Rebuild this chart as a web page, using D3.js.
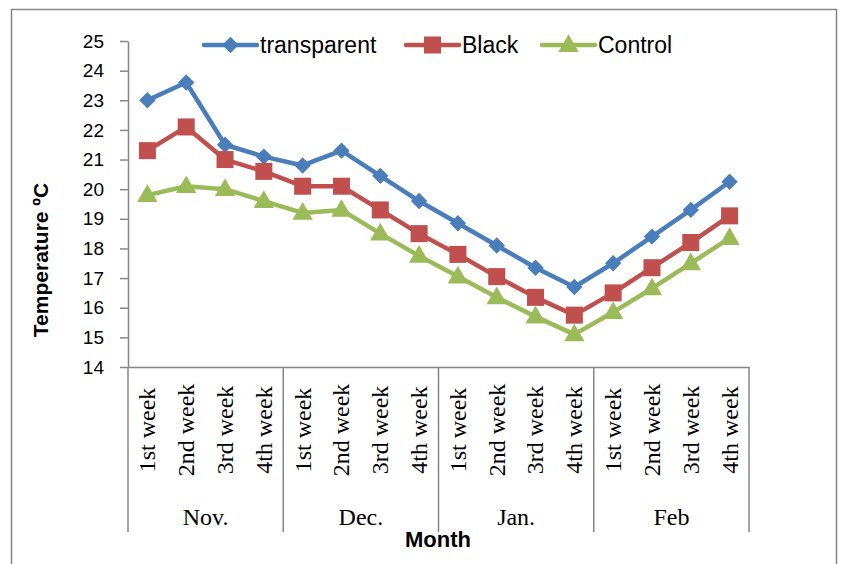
<!DOCTYPE html>
<html>
<head>
<meta charset="utf-8">
<script src="https://cdn.jsdelivr.net/npm/d3@7"></script>
<style>
	body { margin: 0; background: #fff; }
	svg { display: block; }
</style>
</head>
<body>
<script>
var months = ["Nov.", "Dec.", "Jan.", "Feb"];
var weeks = ["1st week", "2nd week", "3rd week", "4th week"];

var transparent = [23.0, 23.6, 21.5, 21.1, 20.8, 21.3, 20.45, 19.6, 18.85, 18.1, 17.35, 16.7, 17.5, 18.4, 19.3, 20.25];
var black = [21.3, 22.1, 21.0, 20.6, 20.1, 20.1, 19.3, 18.5, 17.8, 17.05, 16.35, 15.75, 16.5, 17.35, 18.2, 19.1];
var control = [19.8, 20.1, 20.0, 19.6, 19.2, 19.3, 18.5, 17.75, 17.05, 16.35, 15.7, 15.1, 15.85, 16.65, 17.5, 18.35];

var yTicks = [14, 15, 16, 17, 18, 19, 20, 21, 22, 23, 24, 25];

var seriesNames = ["transparent", "Black", "Control"];

var chart = {
	width: 847,
	height: 564,
	left: 128,
	right: 749,
	top: 41,
	bottom: 367,
	axisColor: "#868686",

	init: function () {
		// one key per week, grouped by month
		var keys = [];
		months.forEach(function (m) {
			weeks.forEach(function (w) { keys.push(m + "|" + w); });
		});
		this.keys = keys;

		this.x = d3.scaleBand().domain(keys).range([this.left, this.right]);
		this.xMonth = d3.scaleBand().domain(months).range([this.left, this.right]);
		this.y = d3.scaleLinear().domain([14, 25]).range([this.bottom, this.top]);

		this.svg = d3.select("body").append("svg")
			.attr("width", this.width)
			.attr("height", this.height);

		// outer chart frame
		this.svg.append("rect")
			.attr("x", 11.5).attr("y", 9.5)
			.attr("width", 825).attr("height", 570)
			.attr("fill", "none")
			.attr("stroke", this.axisColor)
			.attr("stroke-width", 1.5);

		this.yAxis();
		this.xAxis();
		this.lines();
		this.legend();
	},

	yAxis: function () {
		var g = this.svg.append("g")
			.attr("transform", "translate(" + this.left + ",0)")
			.call(d3.axisLeft(this.y).tickValues(yTicks).tickSize(8).tickSizeOuter(0).tickPadding(16));
		g.select(".domain").attr("stroke", this.axisColor).attr("stroke-width", 1.5);
		g.selectAll(".tick line").attr("stroke", this.axisColor).attr("stroke-width", 1.5);
		g.selectAll(".tick text")
			.attr("fill", "#000")
			.style("font-family", "'Liberation Sans', Arial, sans-serif")
			.style("font-size", "19px");

		this.svg.append("text")
			.attr("transform", "translate(48,260) rotate(-90)")
			.attr("text-anchor", "middle")
			.style("font-family", "'Liberation Sans', Arial, sans-serif")
			.style("font-weight", "bold")
			.style("font-size", "21px")
			.text("Temperature \u00baC");
	},

	xAxis: function () {
		var self = this;
		var g = this.svg.append("g")
			.attr("transform", "translate(0," + this.bottom + ")")
			.call(d3.axisBottom(this.x).tickSize(0).tickSizeOuter(0).tickFormat(""));
		g.select(".domain").attr("stroke", this.axisColor).attr("stroke-width", 1.5);

		// month separators
		var edges = months.map(function (m) { return self.xMonth(m); });
		edges.push(this.right);
		this.svg.selectAll(".sep").data(edges).enter().append("line")
			.attr("x1", function (d) { return d; })
			.attr("x2", function (d) { return d; })
			.attr("y1", this.bottom)
			.attr("y2", 532)
			.attr("stroke", this.axisColor)
			.attr("stroke-width", 1.5);

		// week labels, rotated
		this.svg.selectAll(".week").data(this.keys).enter().append("text")
			.attr("transform", function (d) {
				var cx = self.x(d) + self.x.bandwidth() / 2;
				return "translate(" + cx + ",430) rotate(-90)";
			})
			.attr("text-anchor", "middle")
			.attr("dy", "0.33em")
			.style("font-family", "'Liberation Serif', 'Times New Roman', serif")
			.style("font-size", "24px")
			.text(function (d) { return d.split("|")[1]; });

		this.svg.selectAll(".month").data(months).enter().append("text")
			.attr("x", function (d) { return self.xMonth(d) + self.xMonth.bandwidth() / 2; })
			.attr("y", 525)
			.attr("text-anchor", "middle")
			.style("font-family", "'Liberation Serif', 'Times New Roman', serif")
			.style("font-size", "24px")
			.text(function (d) { return d; });

		this.svg.append("text")
			.attr("x", 438)
			.attr("y", 547)
			.attr("text-anchor", "middle")
			.style("font-family", "'Liberation Sans', Arial, sans-serif")
			.style("font-weight", "bold")
			.style("font-size", "22px")
			.text("Month");
	},

	styles: [
		{ color: "#4a7ebb", symbol: d3.symbolDiamond2, size: 170 },
		{ color: "#c0504d", symbol: d3.symbolSquare, size: 290 },
		{ color: "#9bbb59", symbol: d3.symbolTriangle, size: 180 }
	],

	lines: function () {
		var self = this;
		var all = [transparent, black, control];
		var line = d3.line()
			.x(function (d, i) { return self.x(self.keys[i]) + self.x.bandwidth() / 2; })
			.y(function (d) { return self.y(d); });

		all.forEach(function (values, s) {
			var st = self.styles[s];
			self.svg.append("path")
				.attr("d", line(values))
				.attr("fill", "none")
				.attr("stroke", st.color)
				.attr("stroke-width", 4.5)
				.attr("stroke-linejoin", "round");

			self.svg.selectAll(".m" + s).data(values).enter().append("path")
				.attr("d", d3.symbol().type(st.symbol).size(st.size))
				.attr("transform", function (d, i) {
					var cx = self.x(self.keys[i]) + self.x.bandwidth() / 2;
					var cy = self.y(d) + (st.symbol === d3.symbolTriangle ? 1 : 0);
					return "translate(" + cx + "," + cy + ")";
				})
				.attr("fill", st.color);
		});
	},

	legend: function () {
		var self = this;
		var xs = [204, 406, 542];
		seriesNames.forEach(function (name, s) {
			var st = self.styles[s];
			var g = self.svg.append("g").attr("transform", "translate(" + xs[s] + ",45)");
			g.append("line")
				.attr("x1", 0).attr("x2", 53)
				.attr("stroke", st.color)
				.attr("stroke-width", 4.5)
				.attr("stroke-linecap", "round");
			g.append("path")
				.attr("d", d3.symbol().type(st.symbol).size(st.size))
				.attr("transform", "translate(26.5," + (st.symbol === d3.symbolTriangle ? 1 : 0) + ")")
				.attr("fill", st.color);
			g.append("text")
				.attr("x", 56)
				.attr("y", 8)
				.style("font-family", "'Liberation Sans', Arial, sans-serif")
				.style("font-size", "23px")
				.text(name);
		});
	}
};

chart.init();
</script>
</body>
</html>
